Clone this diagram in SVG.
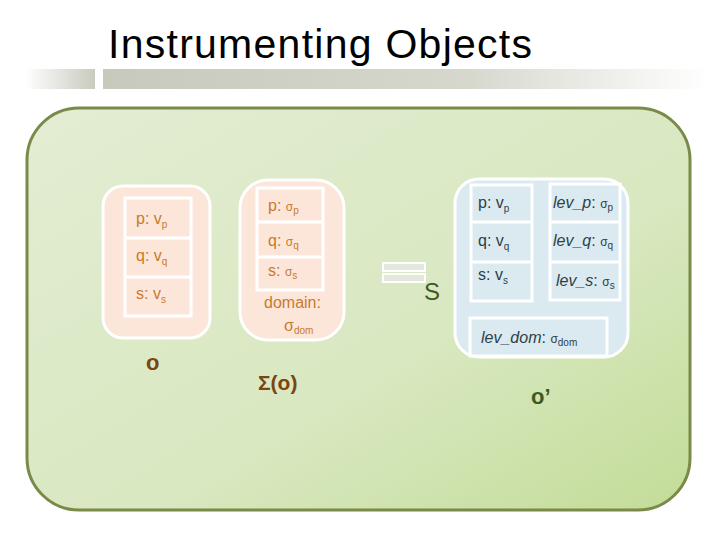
<svg xmlns="http://www.w3.org/2000/svg" width="720" height="540" viewBox="0 0 720 540">
<defs>
<linearGradient id="bg" x1="0" y1="0" x2="1" y2="1"><stop offset="0" stop-color="#e3edd3"/><stop offset="0.6" stop-color="#d8e8c0"/><stop offset="1" stop-color="#c3dc98"/></linearGradient>
<linearGradient id="bar1" x1="0" x2="1"><stop offset="0" stop-color="#fff"/><stop offset="1" stop-color="#c8cbbf"/></linearGradient>
<linearGradient id="bar2" x1="0" x2="1"><stop offset="0" stop-color="#c6c9bc"/><stop offset="0.6" stop-color="#d6d8ce"/><stop offset="1" stop-color="#fff"/></linearGradient>
</defs>
<style>
.or{fill:#fce6da;stroke:#fff;stroke-width:3}
.bl{fill:#daeaf0;stroke:#fff;stroke-width:3}
.cell{fill:none;stroke:#fff;stroke-width:3}
.t{font-family:"Liberation Sans",Arial,sans-serif;font-size:16px;fill:#c87a2c}
.b{font-family:"Liberation Sans",Arial,sans-serif;font-size:16px;fill:#2f3f48}
.sub{font-size:10px}
.it{font-style:italic}
</style>
<rect width="720" height="540" fill="#fff"/>
<text x="108" y="58" font-family="Liberation Sans,Arial,sans-serif" font-size="41" textLength="424" fill="#000">Instrumenting Objects</text>
<rect x="25" y="69" width="70" height="20" fill="url(#bar1)"/>
<rect x="103" y="69" width="607" height="20" fill="url(#bar2)"/>
<rect x="27" y="108" width="663" height="402" rx="52" fill="url(#bg)" stroke="#7a8a48" stroke-width="3"/>
<g id="o">
<rect x="103" y="186" width="107" height="152" rx="20" class="or"/>
<rect x="125" y="198" width="66" height="118" class="cell"/>
<line x1="125" y1="238" x2="191" y2="238" class="cell"/>
<line x1="125" y1="277" x2="191" y2="277" class="cell"/>
<text x="136" y="224" class="t">p: v<tspan class="sub" dy="4">p</tspan></text>
<text x="136" y="261" class="t">q: v<tspan class="sub" dy="4">q</tspan></text>
<text x="136" y="299" class="t">s: v<tspan class="sub" dy="4">s</tspan></text>
<text x="146" y="370" font-family="Liberation Sans,Arial,sans-serif" font-size="22" font-weight="bold" fill="#7a4510">o</text>
</g>
<g id="sigma">
<rect x="240" y="180" width="104" height="160" rx="28" class="or"/>
<rect x="257" y="188" width="66" height="102" class="cell"/>
<line x1="257" y1="222" x2="323" y2="222" class="cell"/>
<line x1="257" y1="257" x2="323" y2="257" class="cell"/>
<text x="268" y="211" class="t">p: <tspan font-size="12">σ</tspan><tspan class="sub" dy="3">p</tspan></text>
<text x="268" y="246" class="t">q: <tspan font-size="12">σ</tspan><tspan class="sub" dy="3">q</tspan></text>
<text x="268" y="276" class="t">s: <tspan font-size="12">σ</tspan><tspan class="sub" dy="3">s</tspan></text>
<text x="264" y="308" class="t">domain:</text>
<text x="284" y="331" class="t" font-size="12">σ<tspan class="sub" dy="3">dom</tspan></text>
<text x="258" y="390" font-family="Liberation Sans,Arial,sans-serif" font-size="21" font-weight="bold" fill="#7a4510">Σ(o)</text>
</g>
<g id="connectors">
<rect x="383" y="263" width="42" height="8" fill="#e3e8de" stroke="#fff" stroke-width="2"/>
<rect x="383" y="274" width="42" height="8" fill="#e3e8de" stroke="#fff" stroke-width="2"/>
<text x="424" y="300" font-family="Liberation Sans,Arial,sans-serif" font-size="24" fill="#3e5a1e">S</text>
</g>
<g id="oprime">
<rect x="455" y="179" width="173" height="178" rx="24" class="bl"/>
<rect x="471" y="185" width="61" height="116" class="cell"/>
<line x1="471" y1="222" x2="532" y2="222" class="cell"/>
<line x1="471" y1="262" x2="532" y2="262" class="cell"/>
<rect x="550" y="184" width="70" height="116" class="cell"/>
<line x1="550" y1="222" x2="620" y2="222" class="cell"/>
<line x1="550" y1="262" x2="620" y2="262" class="cell"/>
<rect x="470" y="318" width="137" height="38" class="cell"/>
<text x="478" y="208" class="b">p: v<tspan class="sub" dy="4">p</tspan></text>
<text x="478" y="246" class="b">q: v<tspan class="sub" dy="4">q</tspan></text>
<text x="478" y="280" class="b">s: v<tspan class="sub" dy="4">s</tspan></text>
<text x="553" y="208" class="b"><tspan class="it">lev_p</tspan>: <tspan font-size="12">σ</tspan><tspan class="sub" dy="3">p</tspan></text>
<text x="553" y="246" class="b"><tspan class="it">lev_q</tspan>: <tspan font-size="12">σ</tspan><tspan class="sub" dy="3">q</tspan></text>
<text x="556" y="286" class="b"><tspan class="it">lev_s</tspan>: <tspan font-size="12">σ</tspan><tspan class="sub" dy="3">s</tspan></text>
<text x="481" y="343" class="b"><tspan class="it">lev_dom</tspan>: <tspan font-size="12">σ</tspan><tspan class="sub" dy="3">dom</tspan></text>
<text x="531" y="404" font-family="Liberation Sans,Arial,sans-serif" font-size="22" font-weight="bold" fill="#3e5a1e">o’</text>
</g>
</svg>
